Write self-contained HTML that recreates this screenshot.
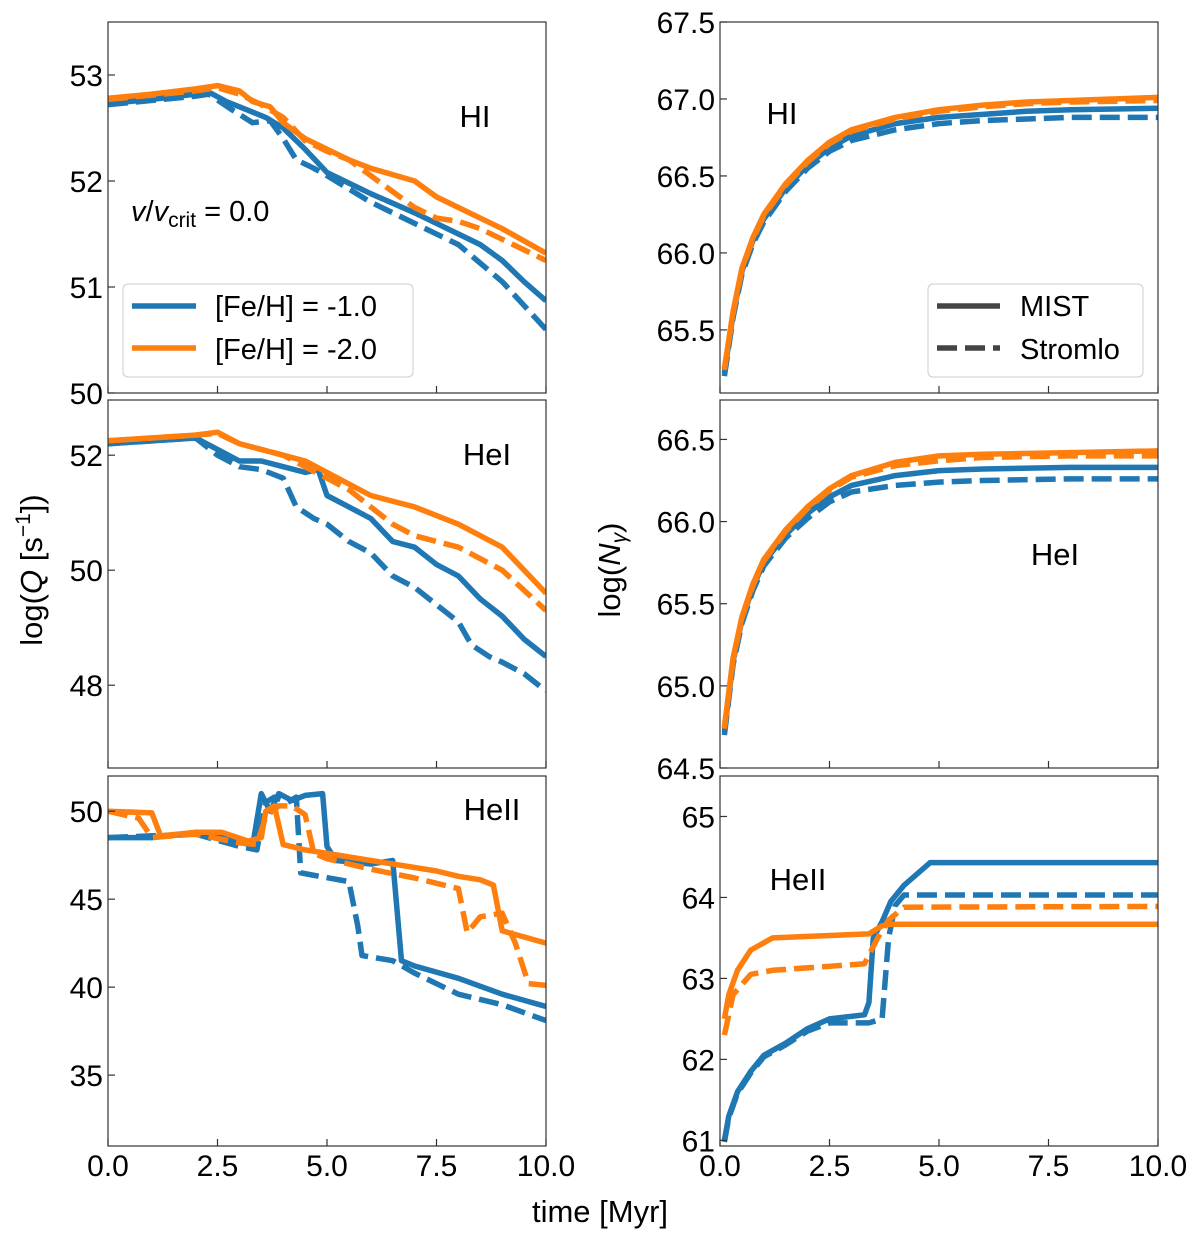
<!DOCTYPE html>
<html><head><meta charset="utf-8"><style>
body{margin:0;background:#fff}
svg{display:block;font-family:"Liberation Sans","DejaVu Sans",sans-serif}
</style></head><body>
<svg id="fig" width="1200" height="1241" viewBox="0 0 1200 1241" xmlns="http://www.w3.org/2000/svg"></svg>
<script>
// ---- data ----
const xTicks=[0,2.5,5,7.5,10];
const xTickLabels=["0.0","2.5","5.0","7.5","10.0"];
// left panels: log Q
const qHI_b_s=[[0,52.73],[1,52.77],[2,52.82],[2.3,52.84],[2.7,52.75],[3.3,52.65],[3.6,52.6],[4,52.5],[4.5,52.3],[5,52.08],[5.5,51.98],[6,51.88],[7,51.7],[8,51.5],[8.5,51.4],[9,51.25],[9.5,51.05],[10,50.87]];
const qHI_b_d=[[0,52.72],[2,52.8],[2.3,52.82],[2.8,52.68],[3.3,52.55],[3.7,52.57],[4,52.4],[4.3,52.2],[4.7,52.12],[5,52.05],[6,51.8],[7,51.6],[8,51.4],[9,51.05],[10,50.6]];
const qHI_o_s=[[0,52.78],[1,52.82],[2,52.87],[2.5,52.9],[3,52.85],[3.3,52.75],[3.7,52.7],[4,52.55],[4.5,52.4],[5,52.3],[5.5,52.2],[6,52.12],[7,52.0],[7.5,51.85],[8,51.75],[9,51.55],[10,51.32]];
const qHI_o_d=[[0,52.77],[2,52.85],[2.5,52.88],[3,52.82],[3.5,52.72],[4,52.6],[4.5,52.38],[5,52.28],[5.5,52.2],[6,52.05],[6.5,51.9],[7,51.75],[7.5,51.65],[8,51.62],[8.5,51.55],[9,51.45],[10,51.25]];
const qHeI_b_s=[[0,52.2],[2,52.3],[2.5,52.1],[3,51.9],[3.5,51.9],[4,51.8],[4.5,51.7],[4.8,51.75],[5,51.3],[5.5,51.1],[6,50.9],[6.5,50.5],[7,50.4],[7.5,50.1],[8,49.9],[8.5,49.5],[9,49.2],[9.5,48.8],[10,48.5]];
const qHeI_b_d=[[0,52.2],[2,52.3],[2.5,52.0],[3,51.8],[3.5,51.75],[4,51.6],[4.3,51.1],[4.7,50.9],[5,50.8],[5.5,50.5],[6,50.3],[6.5,49.9],[7,49.7],[7.5,49.4],[8,49.1],[8.3,48.7],[8.7,48.5],[9,48.4],[9.5,48.2],[10,47.9]];
const qHeI_o_s=[[0,52.25],[2,52.35],[2.5,52.4],[3,52.2],[4,52.0],[4.5,51.9],[5,51.7],[5.5,51.5],[6,51.3],[7,51.1],[8,50.8],[9,50.4],[10,49.6]];
const qHeI_o_d=[[0,52.25],[2,52.35],[2.5,52.38],[3,52.2],[4,52.0],[4.5,51.8],[5,51.6],[5.5,51.4],[6,51.1],[6.5,50.8],[7,50.6],[8,50.4],[9,50.0],[10,49.3]];
const qHeII_b_s=[[0,48.5],[1,48.5],[2,48.8],[2.5,48.6],[3,48.3],[3.3,48.0],[3.5,51.0],[3.7,50.0],[3.9,51.0],[4.2,50.6],[4.5,50.9],[4.9,51.0],[5.0,48.0],[5.2,47.2],[6,47.0],[6.5,47.2],[6.7,41.5],[7,41.2],[8,40.5],[9,39.6],[10,38.9]];
const qHeII_b_d=[[0,48.5],[2,48.7],[3,48.0],[3.4,47.8],[3.6,50.5],[3.8,50.8],[4.1,50.5],[4.3,50.8],[4.4,46.5],[4.6,46.4],[5.5,46.0],[5.7,43.5],[5.8,41.8],[6.5,41.5],[7,40.8],[8,39.6],[9,39.0],[10,38.1]];
const qHeII_o_s=[[0,50.0],[1,49.9],[1.2,48.6],[2,48.8],[2.6,48.8],[3.2,48.3],[3.5,48.5],[3.6,50.0],[3.8,50.3],[4,48.1],[4.5,47.8],[5,47.6],[6,47.2],[7,46.8],[7.5,46.6],[8,46.3],[8.5,46.1],[8.8,45.8],[9,43.2],[10,42.5]];
const qHeII_o_d=[[0,50.0],[0.7,49.6],[1,48.5],[2,48.7],[3,48.2],[3.4,48.1],[3.6,49.7],[3.9,50.3],[4.2,50.3],[4.5,49.8],[4.7,47.6],[5,47.3],[6,46.7],[7,46.2],[8,45.6],[8.2,43.1],[8.5,44.0],[9,44.2],[9.3,42.5],[9.6,40.2],[10,40.1]];
// right panels: log N_gamma
const nHI_b_s=[[0.1,65.22],[0.3,65.6],[0.5,65.88],[0.75,66.08],[1,66.22],[1.5,66.42],[2,66.57],[2.5,66.68],[3,66.76],[4,66.84],[5,66.88],[6,66.9],[7,66.92],[8,66.93],[10,66.94]];
const nHI_b_d=[[0.1,65.2],[0.3,65.58],[0.5,65.86],[0.75,66.06],[1,66.2],[1.5,66.4],[2,66.55],[2.5,66.66],[3,66.73],[4,66.8],[5,66.84],[6,66.86],[7,66.87],[8,66.88],[10,66.88]];
const nHI_o_s=[[0.1,65.25],[0.3,65.62],[0.5,65.9],[0.75,66.1],[1,66.25],[1.5,66.45],[2,66.6],[2.5,66.72],[3,66.8],[4,66.88],[5,66.93],[6,66.96],[7,66.98],[8,66.99],[10,67.01]];
const nHI_o_d=[[0.1,65.24],[0.3,65.61],[0.5,65.89],[0.75,66.09],[1,66.24],[1.5,66.44],[2,66.59],[2.5,66.71],[3,66.79],[4,66.87],[5,66.92],[6,66.95],[7,66.97],[8,66.98],[10,66.99]];
const nHeI_b_s=[[0.1,64.72],[0.3,65.15],[0.5,65.4],[0.75,65.6],[1,65.75],[1.5,65.92],[2,66.05],[2.5,66.15],[3,66.22],[4,66.28],[5,66.31],[6,66.32],[8,66.33],[10,66.33]];
const nHeI_b_d=[[0.1,64.7],[0.3,65.13],[0.5,65.38],[0.75,65.58],[1,65.73],[1.5,65.9],[2,66.02],[2.5,66.12],[3,66.18],[4,66.22],[5,66.24],[6,66.25],[8,66.26],[10,66.26]];
const nHeI_o_s=[[0.1,64.75],[0.3,65.17],[0.5,65.42],[0.75,65.62],[1,65.77],[1.5,65.95],[2,66.09],[2.5,66.2],[3,66.28],[4,66.36],[5,66.4],[6,66.41],[8,66.42],[10,66.43]];
const nHeI_o_d=[[0.1,64.74],[0.3,65.16],[0.5,65.41],[0.75,65.61],[1,65.76],[1.5,65.94],[2,66.08],[2.5,66.19],[3,66.27],[4,66.34],[5,66.37],[6,66.39],[8,66.4],[10,66.4]];
const nHeII_b_s=[[0.1,61.0],[0.2,61.3],[0.4,61.6],[0.7,61.85],[1,62.05],[1.5,62.2],[2,62.38],[2.5,62.5],[3.3,62.55],[3.4,62.7],[3.5,63.5],[3.7,63.7],[3.9,63.95],[4.2,64.15],[4.8,64.43],[10,64.43]];
const nHeII_b_d=[[0.1,60.98],[0.2,61.28],[0.4,61.58],[0.7,61.83],[1,62.03],[1.5,62.18],[2,62.35],[2.5,62.45],[3.4,62.45],[3.7,62.5],[3.85,63.5],[4.0,63.9],[4.2,64.03],[10,64.03]];
const nHeII_o_s=[[0.1,62.5],[0.2,62.8],[0.4,63.1],[0.7,63.35],[1.2,63.5],[3.4,63.55],[3.7,63.65],[3.9,63.67],[10,63.67]];
const nHeII_o_d=[[0.1,62.3],[0.3,62.8],[0.7,63.05],[1.2,63.1],[3.3,63.18],[3.6,63.5],[3.85,63.72],[4.2,63.88],[10,63.89]];

const ticksQ1=[50,51,52,53], ticksQ2=[48,50,52], ticksQ3=[35,40,45,50];
const ticksN1=[65.5,66.0,66.5,67.0,67.5], ticksN2=[64.5,65.0,65.5,66.0,66.5], ticksN3=[61,62,63,64,65];

const BLUE="#1f77b4", ORANGE="#ff7f0e";
const NS="http://www.w3.org/2000/svg";
const svg=document.getElementById('fig');
function el(tag,attrs,parent){const e=document.createElementNS(NS,tag);for(const k in attrs)e.setAttribute(k,attrs[k]);(parent||svg).appendChild(e);return e;}

const panels=[
 {name:'q-hi',x0:108,x1:546,y0:22,y1:393,ymin:50,ymax:53.5,ticks:ticksQ1,fmt:v=>v.toFixed(0),series:[qHI_b_s,qHI_b_d,qHI_o_s,qHI_o_d],label:'HI',lx:475,ly:127},
 {name:'q-hei',x0:108,x1:546,y0:400,y1:768,ymin:46.56,ymax:52.96,ticks:ticksQ2,fmt:v=>v.toFixed(0),series:[qHeI_b_s,qHeI_b_d,qHeI_o_s,qHeI_o_d],label:'HeI',lx:487,ly:465},
 {name:'q-heii',x0:108,x1:546,y0:776,y1:1146,ymin:30.97,ymax:52.0,ticks:ticksQ3,fmt:v=>v.toFixed(0),series:[qHeII_b_s,qHeII_b_d,qHeII_o_s,qHeII_o_d],label:'HeII',lx:492,ly:820,xl:true},
 {name:'n-hi',x0:720,x1:1158,y0:22,y1:393,ymin:65.09,ymax:67.5,ticks:ticksN1,fmt:v=>v.toFixed(1),series:[nHI_b_s,nHI_b_d,nHI_o_s,nHI_o_d],label:'HI',lx:782,ly:124},
 {name:'n-hei',x0:720,x1:1158,y0:400,y1:768,ymin:64.5,ymax:66.74,ticks:ticksN2,fmt:v=>v.toFixed(1),series:[nHeI_b_s,nHeI_b_d,nHeI_o_s,nHeI_o_d],label:'HeI',lx:1055,ly:565},
 {name:'n-heii',x0:720,x1:1158,y0:776,y1:1146,ymin:60.93,ymax:65.5,ticks:ticksN3,fmt:v=>v.toFixed(0),series:[nHeII_b_s,nHeII_b_d,nHeII_o_s,nHeII_o_d],label:'HeII',lx:798,ly:890,xl:true}
];
const colors=[BLUE,BLUE,ORANGE,ORANGE], dashed=[false,true,false,true], snames=['blue-solid','blue-dashed','orange-solid','orange-dashed'];

panels.forEach(p=>{
  const g=el('g',{});
  
  
  const sx=v=>p.x0+(v-0)/(10-0)*(p.x1-p.x0);
  const sy=v=>p.y1-(v-p.ymin)/(p.ymax-p.ymin)*(p.y1-p.y0);
  const cid='clip-'+p.name;
  const cp=el('clipPath',{id:cid},g);el('rect',{x:p.x0,y:p.y0,width:p.x1-p.x0,height:p.y1-p.y0},cp);
  p.series.forEach((s,i)=>{
    const d=s.map((pt,j)=>(j?'L':'M')+sx(pt[0]).toFixed(1)+','+sy(pt[1]).toFixed(1)).join(' ');
    const path=el('path',{d:d,fill:'none',stroke:colors[i],'stroke-width':5.5,'stroke-linejoin':'round','clip-path':'url(#'+cid+')'},g);
    if(dashed[i])path.setAttribute('stroke-dasharray','20,8');
    
    
  });
  el('rect',{x:p.x0,y:p.y0,width:p.x1-p.x0,height:p.y1-p.y0,fill:'none',stroke:'#333','stroke-width':1.2},g);
  p.ticks.forEach(v=>{
    const y=sy(v);
    el('line',{x1:p.x0,x2:p.x0+7,y1:y,y2:y,stroke:'#333','stroke-width':1.2},g);
    const t=el('text',{x:p.x0-5,y:y+11,'text-anchor':'end','font-size':30,fill:'#000'},g);
    t.textContent=p.fmt(v);
    
    
  });
  xTicks.forEach((v,i)=>{
    const x=sx(v);
    el('line',{x1:x,x2:x,y1:p.y1,y2:p.y1-7,stroke:'#333','stroke-width':1.2},g);
    if(p.xl){
      const t=el('text',{x:x,y:p.y1+30,'text-anchor':'middle','font-size':30,fill:'#000'},g);
      t.textContent=xTickLabels[i];
      
      
    }
  });
  const lt=el('text',{x:p.lx,y:p.ly,'text-anchor':'middle','font-size':31,fill:'#000'},g);
  lt.textContent=p.label;
  
  
});
</script>
<svg style="position:absolute;left:0;top:0" width="1200" height="1241" xmlns="http://www.w3.org/2000/svg">
 <g font-family="Liberation Sans, DejaVu Sans, sans-serif" fill="#000">
  <text x="131" y="221" font-size="29"><tspan font-style="italic">v</tspan>/<tspan font-style="italic">v</tspan><tspan font-size="21" dy="6">crit</tspan><tspan dy="-6"> = 0.0</tspan></text>
  <g>
   <rect x="123" y="284" width="290" height="93" rx="5" fill="#fff" fill-opacity="0.8" stroke="#ccc"/>
   <line x1="132" y1="306" x2="196" y2="306" stroke="#1f77b4" stroke-width="5.5"/>
   <text x="215" y="316" font-size="29">[Fe/H] = -1.0</text>
   <line x1="132" y1="348" x2="196" y2="348" stroke="#ff7f0e" stroke-width="5.5"/>
   <text x="215" y="359" font-size="29">[Fe/H] = -2.0</text>
  </g>
  <g>
   <rect x="928" y="284" width="215" height="93" rx="5" fill="#fff" fill-opacity="0.8" stroke="#ccc"/>
   <line x1="937" y1="306" x2="1000" y2="306" stroke="#444" stroke-width="5.5"/>
   <text x="1020" y="316" font-size="29">MIST</text>
   <line x1="937" y1="348" x2="1000" y2="348" stroke="#444" stroke-width="5.5" stroke-dasharray="20,8"/>
   <text x="1020" y="359" font-size="29">Stromlo</text>
  </g>
  <text transform="translate(42,570) rotate(-90)" text-anchor="middle" font-size="31">log(<tspan font-style="italic">Q</tspan> [s<tspan font-size="21" dy="-12">−1</tspan><tspan dy="12">])</tspan></text>
  <text transform="translate(620,570) rotate(-90)" text-anchor="middle" font-size="31">log(<tspan font-style="italic">N</tspan><tspan font-size="21" font-style="italic" dy="6">γ</tspan><tspan dy="-6">)</tspan></text>
  <text x="600" y="1222" text-anchor="middle" font-size="31">time [Myr]</text>
 </g>
</svg>
</body></html>
